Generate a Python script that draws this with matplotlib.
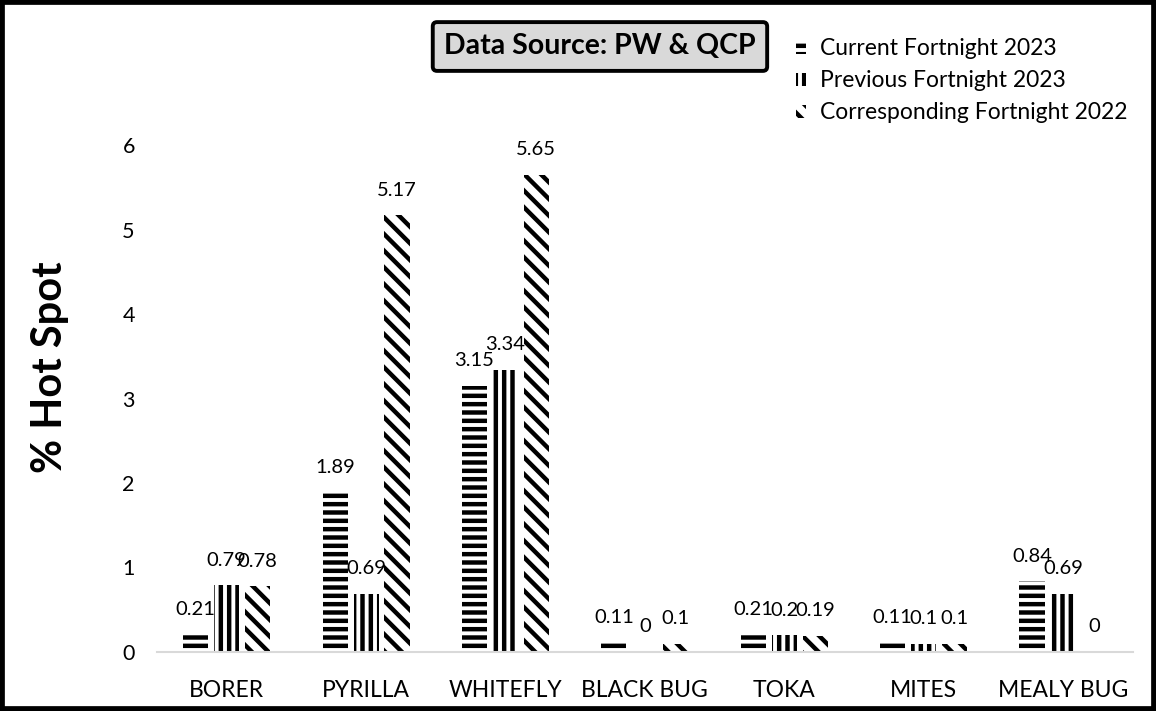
import numpy as np
import matplotlib
matplotlib.use("Agg")
import matplotlib.pyplot as plt
from matplotlib.patches import Rectangle

categories = ['BORER', 'PYRILLA', 'WHITEFLY', 'BLACK BUG', 'TOKA', 'MITES', 'MEALY BUG']
current_2023 = [0.21, 1.89, 3.15, 0.11, 0.21, 0.11, 0.84]
previous_2023 = [0.79, 0.69, 3.34, 0, 0.2, 0.1, 0.69]
corresponding_2022 = [0.78, 5.17, 5.65, 0.1, 0.19, 0.1, 0]
series_names = ['Current Fortnight 2023', 'Previous Fortnight 2023', 'Corresponding Fortnight 2022']

plt.rcParams['font.family'] = ['Lato', 'DejaVu Sans']
plt.rcParams['hatch.linewidth'] = 3.2
plt.rcParams['hatch.color'] = 'black'

fig = plt.figure(figsize=(11.56, 7.11), dpi=100)
ax = fig.add_axes([0.1358, 0.083, 0.844, 0.713])

x = np.arange(len(categories))
width = 0.18
step = 0.222
hatches = ['--', '||', '\\\\']
series = [current_2023, previous_2023, corresponding_2022]

handles = []
for j, (vals, h, name) in enumerate(zip(series, hatches, series_names)):
    bars = ax.bar(x + (j - 1) * step, vals, width, facecolor='white',
                  edgecolor='black', linewidth=0, hatch=h, label=name)
    handles.append(bars)
    for rect, v in zip(bars, vals):
        ax.annotate('%g' % v, (rect.get_x() + rect.get_width() / 2, v),
                    xytext=(0, 18), textcoords='offset points',
                    ha='center', va='center', fontsize=14.5, annotation_clip=False)

ax.set_xlim(-0.5, len(categories) - 0.5)
ax.set_ylim(0, 6)
ax.set_yticks(range(0, 7))
ax.set_xticks(x)
ax.set_xticklabels(categories, fontsize=16.5)
ax.tick_params(axis='y', labelsize=15.5, length=0, pad=16)
ax.tick_params(axis='x', length=0, pad=20)
for s in ['top', 'right', 'left']:
    ax.spines[s].set_visible(False)
ax.spines['bottom'].set_color('#d9d9d9')
ax.spines['bottom'].set_linewidth(1.5)

fig.text(0.0433, 0.484, '% Hot Spot', rotation=90, ha='center', va='center',
         fontsize=30, fontweight='bold')

fig.legend(handles=handles, loc='upper left', bbox_to_anchor=(0.6886, 0.946),
           frameon=False, fontsize=16.5, handlelength=0.45, handleheight=0.5,
           handletextpad=0.6, labelspacing=0.48, borderaxespad=0, borderpad=0)

fig.text(0.519, 0.9346, 'Data Source: PW & QCP', ha='center', va='center',
         fontsize=20.5, fontweight='bold',
         bbox=dict(boxstyle='round,pad=0.4,rounding_size=0.15', facecolor='#d9d9d9',
                   edgecolor='black', linewidth=2.8))

fig.patches.append(Rectangle((0, 0), 1, 1, transform=fig.transFigure,
                             fill=False, edgecolor='black', linewidth=7))

fig.savefig('out.png', dpi=100)
